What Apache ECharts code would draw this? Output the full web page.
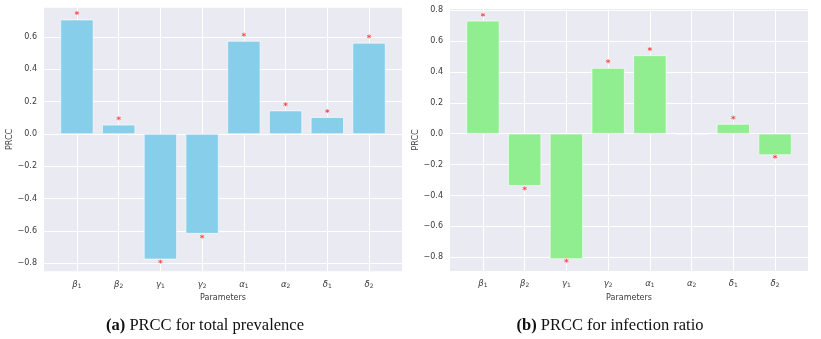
<!DOCTYPE html>
<html lang="en">
<head>
  <meta charset="UTF-8">
  <title>PRCC</title>
  <style>
    html, body { margin: 0; padding: 0; background: #fff; }
    #chart { width: 821px; height: 339px; }
  </style>
</head>
<body>
<div id="chart"></div>
<script src="https://cdn.jsdelivr.net/npm/echarts@6/dist/echarts.min.js"></script>
<script>
  // parameter names: greek letter + subscript
  const paramLetters = ['β', 'β', 'γ', 'γ', 'α', 'α', 'δ', 'δ'];
  const paramSubs = ['1', '2', '1', '2', '1', '2', '1', '2'];
  const yTicksA = [-0.8, -0.6, -0.4, -0.2, 0.0, 0.2, 0.4, 0.6];
  const yTicksB = [-0.8, -0.6, -0.4, -0.2, 0.0, 0.2, 0.4, 0.6, 0.8];

  // (a) total prevalence
  const prccPrevalence = [0.708, 0.057, -0.776, -0.617, 0.576, 0.145, 0.104, 0.564];
  const starsPrevalence = [0.749, 0.097, -0.790, -0.635, 0.615, 0.184, 0.142, 0.604];
  // (b) infection ratio
  const prccRatio = [0.731, -0.337, -0.811, 0.425, 0.507, -0.004, 0.063, -0.138];
  const starsRatio = [0.770, -0.354, -0.822, 0.469, 0.548, null, 0.104, -0.149];

  const chart = echarts.init(document.getElementById('chart'));

  const tickFont = { fontFamily: 'DejaVu Sans', fontSize: 8, color: '#3a3a3a' };
  const asterisk = 'path://M0,-1L0,1M-0.87,-0.5L0.87,0.5M-0.87,0.5L0.87,-0.5';

  function xAxisFor(gridIndex) {
    return {
      type: 'value', gridIndex: gridIndex, min: -0.79, max: 7.79,
      name: 'Parameters', nameLocation: 'middle', nameGap: 21,
      nameTextStyle: { fontFamily: 'DejaVu Sans', fontSize: 8, color: '#3a3a3a' },
      axisLine: { show: false },
      axisTick: { show: false, customValues: [0, 1, 2, 3, 4, 5, 6, 7] },
      splitLine: { show: true, lineStyle: { color: '#ffffff', width: 1 } },
      axisLabel: {
        customValues: [0, 1, 2, 3, 4, 5, 6, 7], margin: 8,
        formatter: v => '{g|' + paramLetters[v] + '}{s|' + paramSubs[v] + '}',
        rich: {
          g: { fontFamily: 'DejaVu Sans', fontStyle: 'italic', fontSize: 8.5, color: '#3a3a3a' },
          s: { fontFamily: 'DejaVu Sans', fontSize: 6, color: '#3a3a3a', padding: [4, 0, 0, 0] }
        }
      }
    };
  }

  function yAxisFor(gridIndex, min, max, ticks) {
    return {
      type: 'value', gridIndex: gridIndex, min: min, max: max,
      name: 'PRCC', nameLocation: 'middle', nameGap: 28, nameRotate: 90,
      nameTextStyle: { fontFamily: 'DejaVu Sans', fontSize: 8, color: '#3a3a3a' },
      axisLine: { show: false },
      axisTick: { show: false, customValues: ticks },
      splitLine: { show: true, lineStyle: { color: '#ffffff', width: 1 } },
      axisLabel: Object.assign({
        customValues: ticks, margin: 7,
        formatter: v => (v < 0 ? '\u2212' : '') + Math.abs(v).toFixed(1)
      }, tickFont)
    };
  }

  function barsFor(idx, values, color) {
    return {
      type: 'bar', xAxisIndex: idx, yAxisIndex: idx, barWidth: 33,
      data: values.map((v, i) => [i, v]),
      itemStyle: { color: color, borderColor: '#ffffff', borderWidth: 0.6 },
      silent: true
    };
  }

  function starsFor(idx, values) {
    return {
      type: 'scatter', xAxisIndex: idx, yAxisIndex: idx,
      symbol: asterisk, symbolSize: 4,
      data: values.map((v, i) => [i, v]).filter(d => d[1] !== null),
      itemStyle: { color: 'none', borderColor: '#ff3b3b', borderWidth: 1 },
      silent: true, z: 5
    };
  }

  function caption(cx, tag, rest) {
    return {
      type: 'text', x: cx, y: 326, silent: true,
      style: {
        text: '{b|' + tag + '} ' + rest,
        align: 'center', verticalAlign: 'middle',
        font: '16.5px "Liberation Serif"', fill: '#111',
        rich: { b: { fontFamily: 'Liberation Serif', fontWeight: 'bold', fontSize: 16.5, fill: '#111' } }
      }
    };
  }

  const option = {
    animation: false,
    backgroundColor: '#ffffff',
    grid: [
      { left: 44, right: 419, top: 7.7, bottom: 67.7, show: true, backgroundColor: '#eaeaf2', borderWidth: 0 },
      { left: 450, right: 13, top: 8.9, bottom: 68.1, show: true, backgroundColor: '#eaeaf2', borderWidth: 0 }
    ],
    xAxis: [xAxisFor(0), xAxisFor(1)],
    yAxis: [
      yAxisFor(0, -0.85, 0.782, yTicksA),
      yAxisFor(1, -0.888, 0.808, yTicksB)
    ],
    series: [
      barsFor(0, prccPrevalence, '#87ceeb'),
      starsFor(0, starsPrevalence),
      barsFor(1, prccRatio, '#90ee90'),
      starsFor(1, starsRatio)
    ],
    graphic: [
      caption(205, '(a)', 'PRCC for total prevalence'),
      caption(610, '(b)', 'PRCC for infection ratio')
    ]
  };

  chart.setOption(option);
</script>
</body>
</html>
